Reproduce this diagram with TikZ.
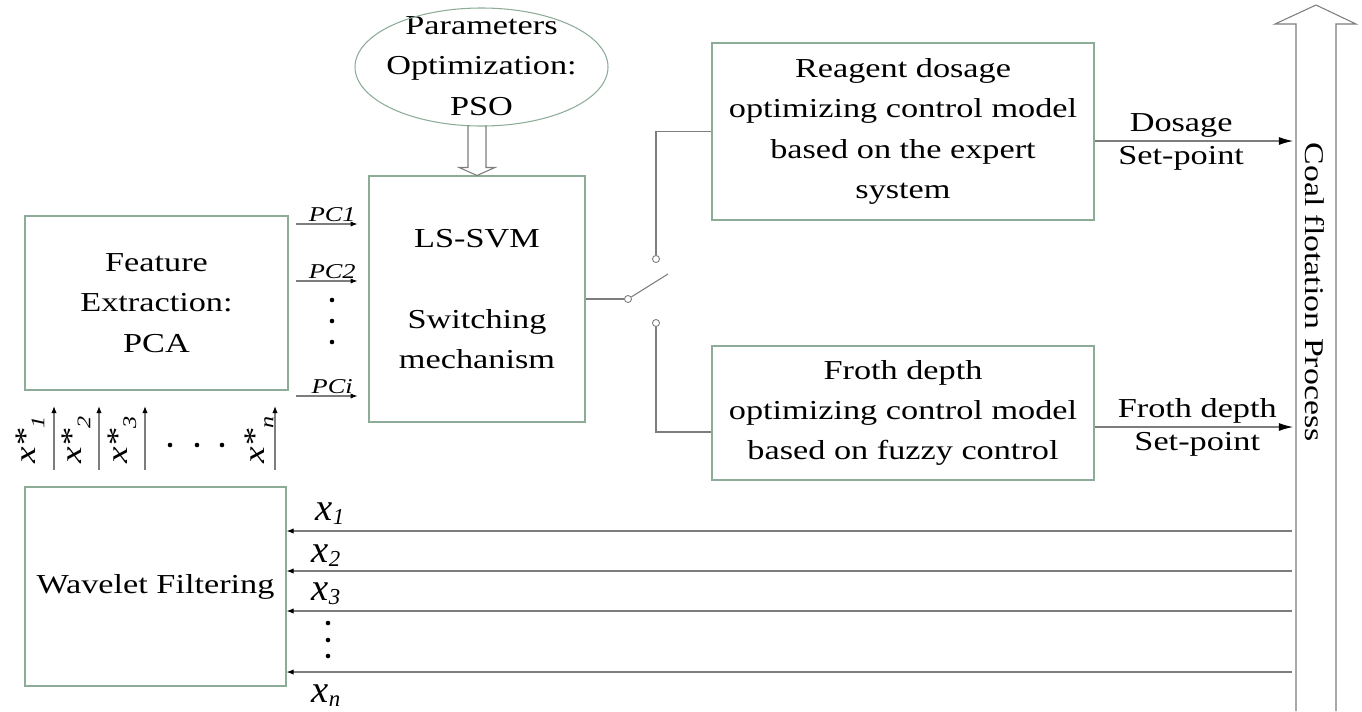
\documentclass[tikz,border=0pt]{standalone}
\usepackage{fontspec}
\setmainfont{Liberation Serif}[FakeStretch=1.25]
\newfontfamily\labelfont{Liberation Serif}
\usetikzlibrary{arrows.meta,calc,positioning}

\definecolor{boxgreen}{RGB}{140,172,152}
\definecolor{linegray}{RGB}{125,125,125}

\newlength\px
\setlength\px{0.02cm}
\newcommand{\mainsize}{\fontsize{15.6}{23}\selectfont}
\newcommand{\subix}[1]{\raisebox{-0.3em}{\fontsize{11}{11}\selectfont\itshape #1}}
\newcommand{\xin}[1]{{\labelfont\itshape\fontsize{22}{22}\selectfont x}\raisebox{-0.25em}{\labelfont\itshape\fontsize{13}{13}\selectfont #1}}

\tikzset{
  blockbox/.style={draw=boxgreen, line width=0.6pt, align=center, inner sep=0pt, font=\mainsize},
  contact/.style={circle, draw=linegray, line width=0.5pt, inner sep=0pt, minimum size=4pt},
  wire/.style={linegray, line width=0.6pt},
  smallarrow/.style={wire, -{Latex[length=4pt, width=3pt, color=black]}},
  bigarrow/.style={wire, -{Latex[length=8pt, width=4.5pt, color=black]}},
  pclabel/.style={text=black, font=\fontsize{12}{12}\selectfont\itshape, inner sep=1pt},
  setlabel/.style={text=black, font=\mainsize, inner sep=0pt},
  starlabel/.style={rotate=90, font=\fontsize{17}{17}\selectfont\itshape, inner sep=0pt}
}

\begin{document}
\begin{tikzpicture}[x=0.02cm, y=-0.02cm]
  \useasboundingbox (0,0) rectangle (1362,711);

  % blocks
  \node[blockbox, minimum width=263\px, minimum height=174\px] (pca) at (156.5,303) {Feature\\Extraction:\\PCA};
  \node[blockbox, minimum width=261\px, minimum height=199\px] (wav) at (155.5,586.5) {Wavelet Filtering};
  \node[blockbox, minimum width=216\px, minimum height=246\px] (svm) at (477,299) {LS-SVM\\[23pt]Switching\\mechanism};
  \node[blockbox, minimum width=382\px, minimum height=177\px] (reag) at (903,131.5)
    {Reagent dosage\\optimizing control model\\based on the expert\\system};
  \node[blockbox, minimum width=382\px, minimum height=134\px] (froth) at (903,413)
    {Froth depth\\optimizing control model\\based on fuzzy control};

  % PSO ellipse and hollow arrow
  \node[font=\mainsize, align=center, inner sep=0pt] (pso) at (481.5,66) {Parameters\\Optimization:\\PSO};
  \draw[boxgreen, line width=0.6pt] (481.5,67) ellipse [x radius=126.5, y radius=59];
  \draw[wire, shift={(svm.north)}] (-9,-50) -- (-9,-8) -- (-18,-8) -- (0,0) -- (18,-8) -- (9,-8) -- (9,-50);

  % principal components
  \coordinate (pc1) at (296,224);
  \coordinate (pc2) at (296,281);
  \coordinate (pci) at (296,396);
  \foreach \p/\t in {pc1/PC1, pc2/PC2, pci/PCi}{
    \draw[smallarrow, shorten >=6.2pt] (\p) -- (\p -| svm.west)
      node[pclabel, above, pos=0.5] (\p lab) {\t};
  }
  \foreach \y in {300,321,342} \fill (332,\y) circle (2.3);

  % switch
  \node[contact] (s0) at (628,299) {};
  \node[contact] (s1) at (656,259) {};
  \node[contact] (s2) at (656,323) {};
  \coordinate (lever) at (668,274);
  \coordinate (frothin) at ($(froth.west)+(0,19)$);
  \draw[wire] (svm.east) -- (s0);
  \draw[wire] (s0) -- (lever);
  \draw[wire] (s1) |- (reag.west);
  \draw[wire] (s2) |- (frothin);

  % coal flotation process
  \draw[wire] (1296,711) -- (1296,24) -- (1275,24) -- (1316,5) -- (1356,24) -- (1336,24) -- (1336,711);
  \node[rotate=-90, font=\fontsize{15.4}{15.4}\selectfont, inner sep=0pt] (proc) at (1315,292) {Coal flotation Process};
  \coordinate (shaft) at (1296,0);

  % set-points
  \coordinate (dosout) at ($(reag.east)+(0,9.5)$);
  \coordinate (frout) at ($(froth.east)+(0,14)$);
  \draw[bigarrow, shorten >=1.7pt] (dosout) -- (dosout -| shaft)
    node[setlabel, pos=0.43, above=2pt] (doslab) {Dosage}
    node[setlabel, pos=0.43, below=3pt] (dossp) {Set-point};
  \draw[bigarrow, shorten >=1.7pt] (frout) -- (frout -| shaft)
    node[setlabel, pos=0.51, above=2pt] (frlab) {Froth depth}
    node[setlabel, pos=0.51, below=3pt] (frsp) {Set-point};

  % measured variables
  \coordinate (in1) at (1292,531);
  \coordinate (in2) at (1292,571);
  \coordinate (in3) at (1292,611);
  \coordinate (inn) at (1292,672);
  \foreach \p in {in1,in2,in3,inn}
    \draw[smallarrow] (\p) -- (\p -| wav.east);
  \node[anchor=base, inner sep=0pt] (x1) at (330,520) {\xin{1}};
  \node[anchor=base, inner sep=0pt] (x2) at (326,562) {\xin{2}};
  \node[anchor=base, inner sep=0pt] (x3) at (326,600) {\xin{3}};
  \node[anchor=base, inner sep=0pt] (xn) at (326,702) {\xin{n}};
  \foreach \y in {623,640,656} \fill (328,\y) circle (2.3);

  % filtered variables
  \foreach \x in {54,99,145,275}
    \draw[smallarrow] (\x,470) -- (\x,406);
  \node[starlabel] (xs1) at (30,440) {x*\subix{1}};
  \node[starlabel] (xs2) at (76,440) {x*\subix{2}};
  \node[starlabel] (xs3) at (122,440) {x*\subix{3}};
  \node[starlabel] (xsn) at (259,440) {x*\subix{n}};
  \foreach \x in {170,197,222} \fill (\x,445) circle (2.3);
\end{tikzpicture}
\end{document}
